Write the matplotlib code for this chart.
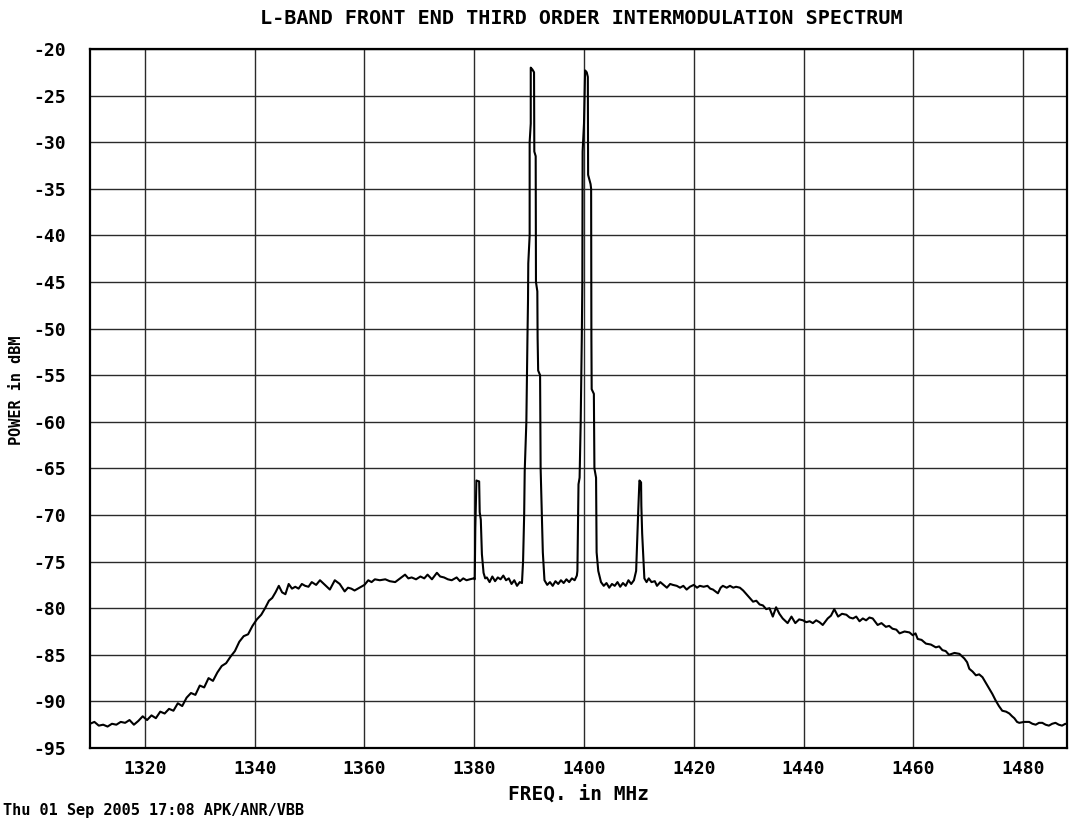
import matplotlib
matplotlib.use("Agg")
import matplotlib.pyplot as plt

# ---- data ----
freq_mhz = [
    1310.0, 1310.8, 1311.6, 1312.4, 1313.2, 1314.0, 1314.8, 1315.6, 1316.4, 1317.2,
    1318.0, 1318.8, 1319.6, 1320.4, 1321.2, 1322.0, 1322.8, 1323.6, 1324.4, 1325.2,
    1326.0, 1326.8, 1327.6, 1328.4, 1329.2, 1330.0, 1330.8, 1331.6, 1332.4, 1333.2,
    1334.0, 1334.8, 1335.6, 1336.4, 1337.2, 1338.0, 1338.8, 1339.6, 1340.4, 1341.2,
    1341.9, 1342.6, 1343.2, 1343.8, 1344.4, 1345.0, 1345.6, 1346.2, 1346.8, 1347.4,
    1348.0, 1348.6, 1349.2, 1349.8, 1350.4, 1351.2, 1351.9, 1352.8, 1353.7, 1354.6,
    1355.5, 1356.4, 1357.0, 1357.6, 1358.2, 1358.8, 1359.4, 1360.0, 1360.7, 1361.3,
    1361.9, 1362.8, 1363.8, 1364.6, 1365.6, 1366.5, 1367.4, 1368.0, 1368.6, 1369.4,
    1370.2, 1370.9, 1371.5, 1372.3, 1373.2, 1373.8, 1374.5, 1375.2, 1375.9, 1376.8,
    1377.4, 1378.0, 1378.6, 1379.2, 1379.9,
    1380.1, 1380.2, 1380.4, 1380.9, 1381.0, 1381.2, 1381.4, 1381.7, 1382.0, 1382.3,
    1382.8, 1383.3, 1383.8, 1384.3, 1384.8, 1385.3, 1385.8, 1386.3, 1386.8, 1387.3,
    1387.8, 1388.3, 1388.7,
    1388.9, 1389.1, 1389.2, 1389.5, 1389.6, 1389.7, 1389.8, 1389.85, 1390.1, 1390.1,
    1390.3, 1390.3, 1390.6, 1390.9, 1390.95, 1391.2, 1391.25, 1391.5, 1391.55, 1391.65,
    1392.0, 1392.1, 1392.5, 1392.8, 1393.3, 1393.8, 1394.3, 1394.8, 1395.3, 1395.8,
    1396.3, 1396.8, 1397.3, 1397.8, 1398.3, 1398.7,
    1398.8, 1399.0, 1399.2, 1399.4, 1399.6, 1399.7, 1399.75, 1400.0, 1400.1, 1400.2,
    1400.5, 1400.7, 1400.75, 1401.2, 1401.3, 1401.35, 1401.4, 1401.8, 1401.9, 1402.2,
    1402.3, 1402.6, 1403.1, 1403.6, 1404.1, 1404.6, 1405.1, 1405.6, 1406.1, 1406.6,
    1407.1, 1407.6, 1408.1, 1408.6, 1409.1,
    1409.5, 1409.9, 1410.1, 1410.4, 1410.45, 1410.6, 1410.9, 1411.0, 1411.4, 1411.8,
    1412.3, 1412.9, 1413.3, 1413.9, 1414.5, 1415.1, 1415.7, 1416.2, 1416.9, 1417.5,
    1418.1, 1418.7, 1419.3, 1420.0, 1420.6, 1421.1, 1421.8, 1422.5, 1423.0, 1423.5,
    1424.4, 1424.9, 1425.3, 1426.0, 1426.6, 1427.2, 1427.7, 1428.4, 1429.0, 1429.6,
    1430.2, 1430.8, 1431.4, 1432.0, 1432.6, 1433.2, 1433.8, 1434.4, 1435.0, 1435.6,
    1436.2, 1437.1, 1437.8, 1438.5, 1439.2, 1439.9, 1440.5, 1441.1, 1441.7, 1442.3,
    1442.9, 1443.5, 1444.4, 1445.0, 1445.6, 1446.3, 1447.0, 1447.8, 1448.4, 1449.0,
    1449.6, 1450.2, 1450.8, 1451.4, 1452.0, 1452.6, 1453.5, 1454.2, 1455.0, 1455.6,
    1456.2, 1456.9, 1457.5, 1458.4, 1459.3, 1459.9, 1460.4, 1460.8, 1461.5, 1462.3,
    1463.2, 1464.1, 1464.7, 1465.3, 1465.9, 1466.5, 1467.5, 1468.4, 1469.3, 1469.8,
    1470.2, 1470.8, 1471.4, 1472.0, 1472.6, 1473.2, 1473.8, 1474.4, 1475.0, 1475.6,
    1476.2, 1476.9, 1477.5, 1478.0, 1478.4, 1478.9, 1479.3, 1480.2, 1481.1, 1481.7,
    1482.3, 1482.9, 1483.5, 1484.1, 1484.7, 1485.3, 1485.9, 1486.5, 1487.1, 1487.7,
    1488.3,
]
power_dbm = [
    -92.4, -92.2, -92.6, -92.5, -92.7, -92.4, -92.5, -92.2, -92.3, -92.0,
    -92.5, -92.1, -91.6, -92.0, -91.5, -91.8, -91.1, -91.3, -90.8, -91.0,
    -90.2, -90.5, -89.6, -89.1, -89.3, -88.3, -88.5, -87.5, -87.8, -86.9,
    -86.2, -85.9, -85.2, -84.6, -83.6, -83.0, -82.8, -81.9, -81.2, -80.7,
    -80.0, -79.2, -78.9, -78.3, -77.6, -78.3, -78.5, -77.4, -77.9, -77.7,
    -77.9, -77.4, -77.6, -77.7, -77.2, -77.5, -77.0, -77.5, -78.0, -77.0,
    -77.4, -78.2, -77.8, -77.9, -78.1, -77.9, -77.7, -77.5, -77.0, -77.2,
    -76.9, -77.0, -76.9, -77.1, -77.2, -76.8, -76.4, -76.8, -76.7, -76.9,
    -76.6, -76.8, -76.4, -76.9, -76.2, -76.6, -76.7, -76.9, -77.0, -76.7,
    -77.1, -76.8, -77.0, -76.9, -76.8,
    -76.9, -71.4, -66.3, -66.4, -69.7, -70.5, -74.2, -76.2, -76.8, -76.7,
    -77.2, -76.6, -77.1, -76.7, -76.9, -76.5, -77.0, -76.8, -77.4, -77.0,
    -77.6, -77.2, -77.3,
    -75.0, -70.0, -65.3, -60.0, -55.0, -51.0, -47.0, -43.0, -40.0, -30.0,
    -28.0, -22.0, -22.2, -22.5, -31.0, -31.5, -45.0, -46.0, -51.0, -54.5,
    -55.0, -65.0, -74.0, -77.0, -77.5, -77.2, -77.6, -77.1, -77.4, -77.0,
    -77.3, -76.9, -77.2, -76.8, -77.0, -76.5,
    -76.0, -66.7, -66.0, -60.0, -51.0, -45.0, -31.0, -28.0, -25.0, -22.3,
    -22.5, -23.0, -33.5, -34.5, -35.0, -51.0, -56.5, -57.0, -65.0, -66.0,
    -74.0, -76.0, -77.2, -77.6, -77.3, -77.8, -77.4, -77.6, -77.2, -77.7,
    -77.3, -77.6, -77.0, -77.4, -77.0,
    -76.0, -69.3, -66.3, -66.5, -69.0, -72.0, -75.6, -76.8, -77.2, -76.8,
    -77.2, -77.1, -77.6, -77.2, -77.5, -77.8, -77.4, -77.5, -77.6, -77.8,
    -77.6, -78.0, -77.7, -77.5, -77.8, -77.6, -77.7, -77.6, -77.9, -78.0,
    -78.4, -77.8, -77.6, -77.8, -77.6, -77.8, -77.7, -77.8, -78.1, -78.5,
    -78.9, -79.3, -79.2, -79.6, -79.7, -80.1, -80.0, -80.9, -79.9, -80.6,
    -81.1, -81.6, -80.9, -81.6, -81.2, -81.3, -81.5, -81.4, -81.6, -81.3,
    -81.5, -81.8, -81.1, -80.8, -80.1, -80.9, -80.6, -80.7, -81.0, -81.1,
    -80.9, -81.4, -81.1, -81.3, -81.0, -81.1, -81.8, -81.6, -82.0, -81.9,
    -82.2, -82.3, -82.7, -82.5, -82.6, -82.9, -82.7, -83.3, -83.4, -83.8,
    -83.9, -84.2, -84.1, -84.5, -84.6, -85.0, -84.8, -84.9, -85.4, -85.8,
    -86.5, -86.8, -87.2, -87.1, -87.4, -88.0, -88.6, -89.2, -89.9, -90.5,
    -91.0, -91.1, -91.3, -91.6, -91.8, -92.2, -92.3, -92.2, -92.2, -92.4,
    -92.5, -92.3, -92.3, -92.5, -92.6, -92.4, -92.3, -92.5, -92.6, -92.4,
    -92.5,
]
x_ticks = [1320, 1340, 1360, 1380, 1400, 1420, 1440, 1460, 1480]
y_ticks = list(range(-95, -19, 5))

title = "L-BAND FRONT END THIRD ORDER INTERMODULATION SPECTRUM"
x_label = "FREQ. in MHz"
y_label = "POWER in dBM"
footer = "Thu 01 Sep 2005 17:08 APK/ANR/VBB"

# ---- drawing ----
W, H = 1070, 819
fig = plt.figure(figsize=(W / 100, H / 100), dpi=100)
fig.patch.set_facecolor("white")
mono = ["DejaVu Sans Mono"]

ax = fig.add_axes([90 / W, (H - 748) / H, 977 / W, 699 / H])
ax.set_xlim(1310, 1488)
ax.set_ylim(-95, -20)

ax.set_xticks(x_ticks)
ax.set_yticks(y_ticks)
ax.set_xticklabels([str(v) for v in x_ticks], family=mono, fontsize=13, fontweight="bold")
ax.set_yticklabels([str(v) for v in y_ticks], family=mono, fontsize=13, fontweight="bold")
ax.tick_params(axis="x", length=0, pad=9)
ax.tick_params(axis="y", length=0, pad=17)

ax.grid(True, color="#2a2a2a", linewidth=1.0)
ax.set_axisbelow(True)
for s in ax.spines.values():
    s.set_linewidth(1.6)
    s.set_color("black")

ax.plot(freq_mhz, power_dbm, color="black", linewidth=1.5, zorder=3)

fig.text(581 / W, 1 - 18 / H, title, ha="center", va="center",
         family=mono, fontsize=14.5, fontweight="bold")
fig.text(578 / W, 1 - 794 / H, x_label, ha="center", va="center",
         family=mono, fontsize=14, fontweight="bold")
fig.text(17 / W, 1 - 390 / H, y_label, ha="center", va="center", rotation=90,
         family=mono, fontsize=11, fontweight="bold")
fig.text(3 / W, 1 - 811 / H, footer, ha="left", va="center",
         family=mono, fontsize=11, fontweight="bold")

fig.savefig("out.png", dpi=100, facecolor="white")
